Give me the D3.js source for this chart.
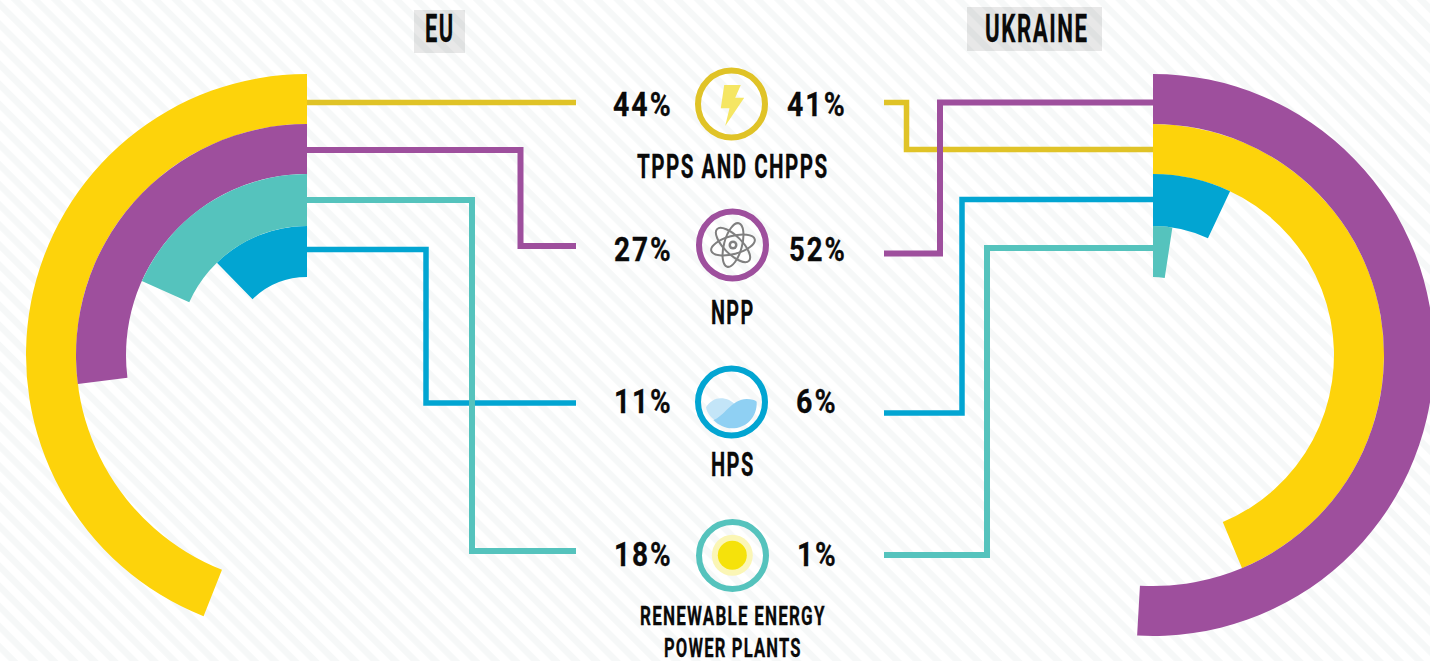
<!DOCTYPE html>
<html>
<head>
	<meta charset="utf-8">
	<title>EU and Ukraine electricity generation</title>
	<script src="https://d3js.org/d3.v7.min.js"></script>
	<style>
		html, body { margin: 0; padding: 0; background: #fff; }
		svg { display: block; }
		text { font-family: "Liberation Sans Narrow", "Roboto", sans-serif; font-weight: 700; fill: #0a0a0a; stroke: #0a0a0a; stroke-width: 0.3px; letter-spacing: 0.07em; }
	</style>
</head>
<body>
<div id="chart"></div>
<script type="text/javascript">

	// Printed percentages, same order as sources
	var sources = ["TPPS AND CHPPS", "NPP", "HPS", "RENEWABLE ENERGY POWER PLANTS"];
	var euLabels = [44, 27, 11, 18];
	var uaLabels = [41, 52, 6, 1];

	// Arc sweep, % of a full circle (close to the printed numbers, not equal)
	var euSweep = [44, 27, 12.3, 18.3];
	var uaSweep = [43.7, 50.9, 7, 2.4];

	// which ring each source sits on, 0 = outermost
	var euRing = [0, 1, 3, 2];
	var uaRing = [1, 0, 2, 3];

	var colors = ["#fdd30b", "#9e4f9d", "#02a5d2", "#55c3bd"];
	var lineColors = ["#e0c327", "#9e4f9d", "#02a5d2", "#55c3bd"];
	var ringEdges = [281, 231, 181, 129, 78];

	var width = 1430, height = 661;

	var svg = d3.select("#chart").append("svg")
		.attr("width", width)
		.attr("height", height);

	// faint diagonal stripes behind everything
	svg.append("defs").append("pattern")
		.attr("id", "stripes")
		.attr("patternUnits", "userSpaceOnUse")
		.attr("width", 14.2)
		.attr("height", 14.2)
		.attr("patternTransform", "rotate(45)")
		.append("rect")
		.attr("width", 14.2)
		.attr("height", 6.5)
		.attr("fill", "#f6f8f8");

	svg.append("rect").attr("width", width).attr("height", height).attr("fill", "#fff");
	svg.append("rect").attr("width", width).attr("height", height).attr("fill", "url(#stripes)");

	var angle = d3.scaleLinear().domain([0, 100]).range([0, 2 * Math.PI]);
	var arc = d3.arc();

	function drawRings(cx, cy, sweep, ring, dir) {
		var g = svg.append("g").attr("transform", "translate(" + cx + "," + cy + ")");
		g.selectAll("path")
			.data(sweep)
			.enter()
			.append("path")
			.attr("fill", function(d, i) { return colors[i]; })
			.attr("d", function(d, i) {
				return arc({
					innerRadius: ringEdges[ring[i] + 1],
					outerRadius: ringEdges[ring[i]],
					startAngle: 0,
					endAngle: dir * angle(d)
				});
			});
	}

	// Connectors. Draw order matters at the crossings (teal over blue, purple over yellow)
	var euPaths = [
		[[307, 102.5], [576, 102.5]],
		[[307, 150], [520.5, 150], [520.5, 246], [576, 246]],
		[[307, 249.5], [426, 249.5], [426, 403], [576, 403]],
		[[307, 200], [472, 200], [472, 551], [576, 551]]
	];
	var uaPaths = [
		[[884, 102.5], [906.5, 102.5], [906.5, 149.5], [1153, 149.5]],
		[[884, 253.5], [940, 253.5], [940, 102.5], [1153, 102.5]],
		[[884, 413], [962, 413], [962, 199.5], [1153, 199.5]],
		[[884, 555], [987, 555], [987, 248], [1153, 248]]
	];
	var euWidths = [5.5, 6, 5.5, 6];
	var uaWidths = [5.5, 6, 5.5, 6];
	var line = d3.line();

	function drawLines(paths, widths, order) {
		order.forEach(function(i) {
			svg.append("path")
				.attr("d", line(paths[i]))
				.attr("fill", "none")
				.attr("stroke", lineColors[i])
				.attr("stroke-width", widths[i])
				.attr("stroke-linejoin", "miter");
		});
	}

	drawLines(euPaths, euWidths, [0, 1, 2, 3]);
	drawLines(uaPaths, uaWidths, [0, 1, 2, 3]);
	drawRings(307, 355, euSweep, euRing, -1);
	drawRings(1153, 355, uaSweep, uaRing, 1);

	// text squeezed to a measured box, x0..x1 and baseline y
	// the 1.7 makes up for the letter-spacing left after the last glyph
	function fitText(str, x0, x1, y, size) {
		svg.append("text")
			.attr("x", x0)
			.attr("y", y)
			.attr("font-size", size)
			.attr("textLength", x1 - x0 + 1.7)
			.attr("lengthAdjust", "spacingAndGlyphs")
			.text(str);
	}

	// headers
	svg.append("rect").attr("x", 414).attr("y", 10).attr("width", 51).attr("height", 43).attr("fill", "#000").attr("opacity", 0.09);
	svg.append("rect").attr("x", 967).attr("y", 7).attr("width", 135).attr("height", 44).attr("fill", "#000").attr("opacity", 0.09);
	fitText("EU", 425, 453, 42, 38);
	fitText("UKRAINE", 985, 1087, 42, 38);

	// percentages
	var pctY = [115.5, 261, 413, 565.5];
	var euPctX = [[613, 671], [614, 671], [614, 671], [614, 671]];
	var uaPctX = [[787, 845], [789, 845], [796, 836], [797, 836]];
	sources.forEach(function(s, i) {
		fitText(euLabels[i] + "%", euPctX[i][0], euPctX[i][1], pctY[i], 34);
		fitText(uaLabels[i] + "%", uaPctX[i][0], uaPctX[i][1], pctY[i], 34);
	});

	// captions
	fitText("TPPS AND CHPPS", 637, 827, 178, 34);
	fitText("NPP", 711, 753, 324, 33);
	fitText("HPS", 711, 753, 476, 33);
	fitText("RENEWABLE ENERGY", 640, 824, 625, 26);
	fitText("POWER PLANTS", 664, 800, 657, 26);

	// icon rings
	var iconX = [731.5, 732.5, 731.5, 732.5];
	var iconY = [104, 245, 402, 555.5];
	svg.selectAll("circle.ring")
		.data(iconX)
		.enter()
		.append("circle")
		.attr("class", "ring")
		.attr("cx", function(d) { return d; })
		.attr("cy", function(d, i) { return iconY[i]; })
		.attr("r", 33.5)
		.attr("fill", "none")
		.attr("stroke", function(d, i) { return lineColors[i]; })
		.attr("stroke-width", 6);

	// lightning bolt
	svg.append("polygon")
		.attr("transform", "translate(731.5,104)")
		.attr("points", "-7.3,-19 9.3,-19 3.7,-6.3 12.7,-6.3 -6.3,22 -2,4.3 -10.7,4.3")
		.attr("fill", "#f5e663");

	// atom
	var atom = svg.append("g").attr("transform", "translate(733,245)");
	[-15, 45, 105].forEach(function(r) {
		atom.append("ellipse")
			.attr("rx", 22.5)
			.attr("ry", 9)
			.attr("transform", "rotate(" + r + ")")
			.attr("fill", "none")
			.attr("stroke", "#7f7f7f")
			.attr("stroke-width", 2);
	});
	atom.append("circle").attr("r", 4.5).attr("fill", "#7f7f7f");
	atom.append("circle").attr("r", 2).attr("fill", "#fff");

	// water, drawn in zoomed px then scaled down
	var water = svg.append("g").attr("transform", "translate(731.7,401.7) scale(0.3333) translate(-395,-155)");
	water.append("path")
		.attr("d", "M318,172 C328,155 345,145 362,145 C380,145 395,152 410,168 L350,215 C335,205 320,190 318,172 Z")
		.attr("fill", "#c3e5f8");
	water.append("path")
		.attr("d", "M340,210 C372,200 395,147 440,147 C455,147 465,150 470,155 C472,200 440,235 395,235 C375,235 355,225 340,210 Z")
		.attr("fill", "#8fd0f3");

	// sun
	svg.append("circle").attr("cx", 732.3).attr("cy", 555.3).attr("r", 20.5).attr("fill", "#fbf6b5");
	svg.append("circle").attr("cx", 732.3).attr("cy", 555.3).attr("r", 14.5).attr("fill", "#f5e20b");

</script>
</body>
</html>
